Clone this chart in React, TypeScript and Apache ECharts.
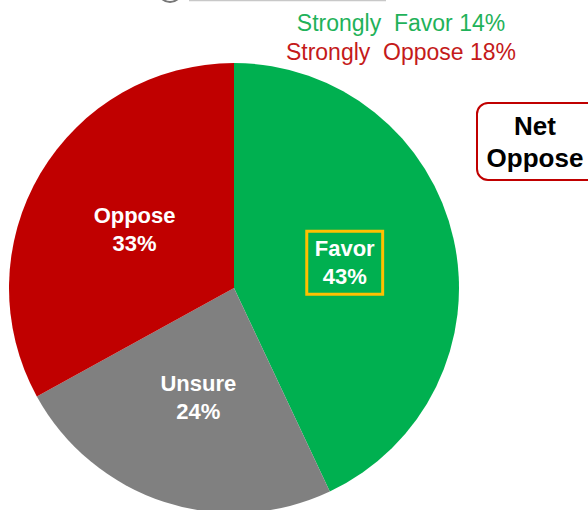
import React, { useEffect, useRef } from "react";
import * as echarts from "echarts";

const categories = ["Favor", "Unsure", "Oppose"];
const values = [43, 24, 33];
const colors = ["#00b050", "#808080", "#c00000"];
const strongLines = ["Strongly  Favor 14%", "Strongly  Oppose 18%"];
const netValue = "-10";
const netLabel = "Net\nOppose";

const FONT = "'Liberation Sans', Arial, sans-serif";

export default function App() {
  const ref = useRef<HTMLDivElement>(null);
  useEffect(() => {
    document.body.style.margin = "0";
    const chart = echarts.init(ref.current!, null, { renderer: "svg" });
    chart.setOption({
      animation: false,
      backgroundColor: "#ffffff",
      series: [
        {
          type: "pie",
          center: [234, 288],
          radius: 225,
          startAngle: 90,
          clockwise: true,
          silent: true,
          itemStyle: { borderWidth: 0 },
          label: {
            show: true,
            position: "inside",
            color: "#ffffff",
            fontFamily: FONT,
            fontWeight: "bold",
            fontSize: 22,
            lineHeight: 28,
            formatter: (p: any) => `${p.name}\n${p.value}%`,
          },
          labelLine: { show: false },
          data: categories.map((c, i) => ({
            name: c,
            value: values[i],
            itemStyle: { color: colors[i] },
            label:
              i === 0
                ? {
                    borderColor: "#ffc000",
                    borderWidth: 3,
                    padding: [4, 8, 3, 8],
                    offset: [-2, 0],
                  }
                : {},
          })),
        },
      ],
      graphic: [
        {
          type: "line",
          shape: { x1: 189, y1: 0.5, x2: 386, y2: 0.5 },
          style: { stroke: "#c8c8c8", lineWidth: 1.5 },
        },
        {
          type: "arc",
          shape: { cx: 170, cy: -10, r: 12, startAngle: Math.PI / 4, endAngle: (3 * Math.PI) / 4 },
          style: { stroke: "#777", lineWidth: 2, fill: "none" },
        },
        {
          type: "text",
          x: 401,
          y: 23,
          style: {
            text: strongLines[0],
            fill: "#1fb25a",
            font: `23px ${FONT}`,
            textAlign: "center",
            textVerticalAlign: "middle",
          },
        },
        {
          type: "text",
          x: 401,
          y: 52,
          style: {
            text: strongLines[1],
            fill: "#c41a1a",
            font: `23px ${FONT}`,
            textAlign: "center",
            textVerticalAlign: "middle",
          },
        },
        {
          type: "rect",
          shape: { x: 197, y: 98, width: 73, height: 62, r: 9 },
          style: { fill: "#ffffff", stroke: "#c00000", lineWidth: 2 },
        },
        {
          type: "text",
          x: 233,
          y: 130,
          style: {
            text: netValue,
            fill: "#000000",
            font: `bold 28px ${FONT}`,
            textAlign: "center",
            textVerticalAlign: "middle",
          },
        },
        {
          type: "rect",
          shape: { x: 477, y: 103, width: 124, height: 77, r: 11 },
          style: { fill: "#ffffff", stroke: "#c00000", lineWidth: 2 },
        },
        {
          type: "text",
          x: 535,
          y: 142,
          style: {
            text: netLabel,
            fill: "#000000",
            font: `bold 26px ${FONT}`,
            lineHeight: 32,
            textAlign: "center",
            textVerticalAlign: "middle",
          },
        },
      ],
    });
    return () => chart.dispose();
  }, []);
  return <div ref={ref} style={{ width: 588, height: 510 }} />;
}
